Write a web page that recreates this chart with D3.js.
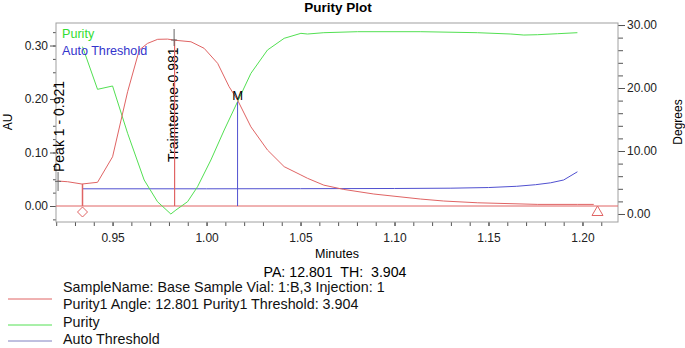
<!DOCTYPE html>
<html><head><meta charset="utf-8">
<script src="https://cdn.jsdelivr.net/npm/d3@7"></script>
<style>body{margin:0;background:#fff}svg{display:block;font-family:"Liberation Sans",Arial,sans-serif}</style>
</head><body><svg id="c" width="685" height="348"></svg>
<script>
// ---- data ----
const chromMinutes = [0.9207,0.9261,0.9337,0.942,0.950,0.958,0.9642,0.9686,0.974,0.9793,0.9828,0.9917,0.9987,1.0059,1.012,1.0165,1.0236,1.0324,1.0413,1.0502,1.0537,1.0624,1.073,1.089,1.1139,1.1262,1.1443,1.1762,1.1975,1.206];
const chromAU = [0.0467,0.0454,0.0411,0.0443,0.092,0.2136,0.2916,0.304,0.3116,0.312,0.310,0.307,0.2948,0.2667,0.223,0.198,0.148,0.1047,0.0735,0.058,0.0518,0.039,0.031,0.0224,0.013,0.0093,0.006,0.003,0.003,0.003];
const purityMinutes = [0.934,0.942,0.950,0.958,0.9668,0.9739,0.981,0.9837,0.9899,0.9952,1.0023,1.0094,1.0165,1.0236,1.0324,1.0413,1.0502,1.0537,1.0624,1.0803,1.114,1.1441,1.1619,1.1688,1.1761,1.1867,1.1973];
const purityDeg = [26.56,19.79,20.32,12.81,5.40,1.95,0.0,0.63,1.95,4.33,8.57,13.33,17.83,22.33,26.03,27.89,28.68,28.57,28.78,28.94,28.94,28.78,28.57,28.41,28.46,28.62,28.78];
const threshMinutes = [0.934,1.0,1.05,1.10,1.13,1.15,1.165,1.175,1.183,1.19,1.1973];
const threshDeg = [4.0,4.0,4.02,4.05,4.1,4.2,4.4,4.65,4.95,5.4,6.7];
const peakLabels = ["Peak 1 - 0.921","Traimterene-0.981"];
const peakTimes = [0.921,0.983];
const peakStart = 0.934, peakEnd = 1.208, purityMatch = 1.0165;
const xTicks = [0.95,1.00,1.05,1.10,1.15,1.20];
const auTicks = [0.00,0.10,0.20,0.30];
const degTicks = [0,10,20,30];
const legendLabels = ["SampleName: Base Sample Vial: 1:B,3 Injection: 1","Purity1 Angle: 12.801 Purity1 Threshold: 3.904","Purity","Auto Threshold"];

// ---- layout ----
const svg = d3.select("#c");
const L=56,R=618,T=23,B=222;
const RED="#e06464", GREEN="#52e052", BLUE="#5050d0";
const x = d3.scaleLinear().domain([0.9199,1.2189]).range([L,R]);
const yL = d3.scaleLinear().domain([-0.0299,0.3421]).range([B,T]);
const yR = d3.scaleLinear().domain([-1.27,30.32]).range([B,T]);

svg.append("text").attr("x",338).attr("y",12).attr("text-anchor","middle").attr("font-weight","bold").attr("font-size",13.5).text("Purity Plot");

// axes
function styleAxis(g){g.select(".domain").remove();g.selectAll("line").attr("stroke","#555");g.selectAll("text").attr("fill","#222").attr("font-size",12).attr("font-family","'Liberation Sans',Arial,sans-serif");}
svg.append("g").attr("transform",`translate(${L},0)`).call(d3.axisLeft(yL).tickValues(d3.range(-0.025,0.34,0.025)).tickSize(3).tickFormat("")).call(styleAxis);
svg.append("g").attr("transform",`translate(${L},0)`).call(d3.axisLeft(yL).tickValues(auTicks).tickSize(6).tickPadding(2).tickFormat(d3.format(".2f"))).call(styleAxis);
svg.append("g").attr("transform",`translate(${R},0)`).call(d3.axisRight(yR).tickValues(d3.range(0,31,2)).tickSize(5).tickFormat("")).call(styleAxis);
svg.append("g").attr("transform",`translate(${R},0)`).call(d3.axisRight(yR).tickValues(degTicks).tickSize(7).tickPadding(2).tickFormat(d3.format(".2f"))).call(styleAxis);
svg.append("g").attr("transform",`translate(0,${B})`).call(d3.axisBottom(x).tickValues(d3.range(0.92,1.215,0.01)).tickSize(4).tickFormat("")).call(styleAxis);
svg.append("g").attr("transform",`translate(0,${B})`).call(d3.axisBottom(x).tickValues(xTicks).tickSize(4).tickPadding(7).tickFormat(d3.format(".2f"))).call(styleAxis);

svg.append("rect").attr("x",L).attr("y",T).attr("width",R-L).attr("height",B-T).attr("fill","none").attr("stroke","#a0a0a0");

// axis titles
svg.append("text").attr("transform",`translate(12,122) rotate(-90)`).attr("text-anchor","middle").attr("font-size",12).text("AU");
svg.append("text").attr("transform",`translate(682,122) rotate(-90)`).attr("text-anchor","middle").attr("font-size",12).text("Degrees");
svg.append("text").attr("x",337).attr("y",258).attr("text-anchor","middle").attr("font-size",12.5).text("Minutes");
svg.append("text").attr("x",335).attr("y",277).attr("text-anchor","middle").attr("font-size",14.2).attr("xml:space","preserve").text("PA: 12.801  TH:  3.904");

const plot = svg.append("g");
// baseline
plot.append("line").attr("x1",L).attr("x2",R).attr("y1",yL(0)).attr("y2",yL(0)).attr("stroke",RED).attr("stroke-width",1);
// threshold
const lineR = d3.line().x((d,i)=>x(d[0])).y(d=>yR(d[1]));
plot.append("path").attr("d",lineR(d3.zip(threshMinutes,threshDeg))).attr("fill","none").attr("stroke",BLUE).attr("stroke-width",1);
// purity
plot.append("path").attr("d",lineR(d3.zip(purityMinutes,purityDeg))).attr("fill","none").attr("stroke",GREEN).attr("stroke-width",1);
// chromatogram
const lineL = d3.line().x(d=>x(d[0])).y(d=>yL(d[1]));
plot.append("path").attr("d",lineL(d3.zip(chromMinutes,chromAU))).attr("fill","none").attr("stroke",RED).attr("stroke-width",1);

// peak start marker
const interp = (t)=>{const i=d3.bisectLeft(chromMinutes,t);if(i<=0)return chromAU[0];if(i>=chromMinutes.length)return chromAU[chromAU.length-1];const t0=chromMinutes[i-1],t1=chromMinutes[i];return chromAU[i-1]+(chromAU[i]-chromAU[i-1])*(t-t0)/(t1-t0);};
plot.append("line").attr("x1",x(peakStart)).attr("x2",x(peakStart)).attr("y1",yL(interp(peakStart))).attr("y2",yL(0)).attr("stroke",RED).attr("stroke-width",1.5);
plot.append("path").attr("d",`M${x(peakStart)},${yL(0)+1} l5,5 l-5,5 l-5,-5 z`).attr("fill","#fff").attr("stroke",RED).attr("stroke-width",1);
// peak end marker
plot.append("path").attr("d",`M${x(peakEnd)},${yL(0)} l5.5,9.5 l-11,0 z`).attr("fill","#fff").attr("stroke",RED).attr("stroke-width",1);
// M marker
plot.append("line").attr("x1",x(purityMatch)).attr("x2",x(purityMatch)).attr("y1",yR(17.8)).attr("y2",yL(0)).attr("stroke",BLUE).attr("stroke-width",1);
plot.append("text").attr("x",x(purityMatch)).attr("y",yR(17.8)-2).attr("text-anchor","middle").attr("font-size",13).text("M");

// peak labels
plot.append("line").attr("x1",x(peakTimes[0])).attr("x2",x(peakTimes[0])).attr("y1",172).attr("y2",191).attr("stroke","#666");
plot.append("line").attr("x1",x(peakTimes[0])-3).attr("x2",x(peakTimes[0])+3).attr("y1",yL(0.046)).attr("y2",yL(0.046)).attr("stroke","#666");
plot.append("text").attr("transform",`translate(${x(peakTimes[0])+6},172) rotate(-90)`).attr("font-size",14).text(peakLabels[0]);
plot.append("text").attr("transform",`translate(${x(peakTimes[1])+3},162) rotate(-90)`).attr("font-size",14).text(peakLabels[1]);
// apex drop line
plot.append("line").attr("x1",x(peakTimes[1])).attr("x2",x(peakTimes[1])).attr("y1",yL(0.312)).attr("y2",yL(0)).attr("stroke",RED).attr("stroke-width",1.2);
plot.append("line").attr("x1",x(peakTimes[1])-0.5).attr("x2",x(peakTimes[1])-0.5).attr("y1",29).attr("y2",46).attr("stroke","#666");
plot.append("line").attr("x1",x(peakTimes[1])-3.5).attr("x2",x(peakTimes[1])+2.5).attr("y1",40).attr("y2",40).attr("stroke","#666");

// inner legend
plot.append("text").attr("x",62).attr("y",38).attr("font-size",12.6).attr("fill","#33dd33").text("Purity");
plot.append("text").attr("x",62).attr("y",55).attr("font-size",12.6).attr("fill","#3434cc").text("Auto Threshold");

// bottom legend
const ly=[292,309,327,344];
legendLabels.forEach((t,i)=>svg.append("text").attr("x",63).attr("y",ly[i]).attr("font-size",14.3).attr("fill","#111").text(t));
[[299,RED],[325,GREEN],[341,"#8080c0"]].forEach(([y,c])=>svg.append("line").attr("x1",8).attr("x2",52).attr("y1",y).attr("y2",y).attr("stroke",c).attr("stroke-width",1));
</script></body></html>
